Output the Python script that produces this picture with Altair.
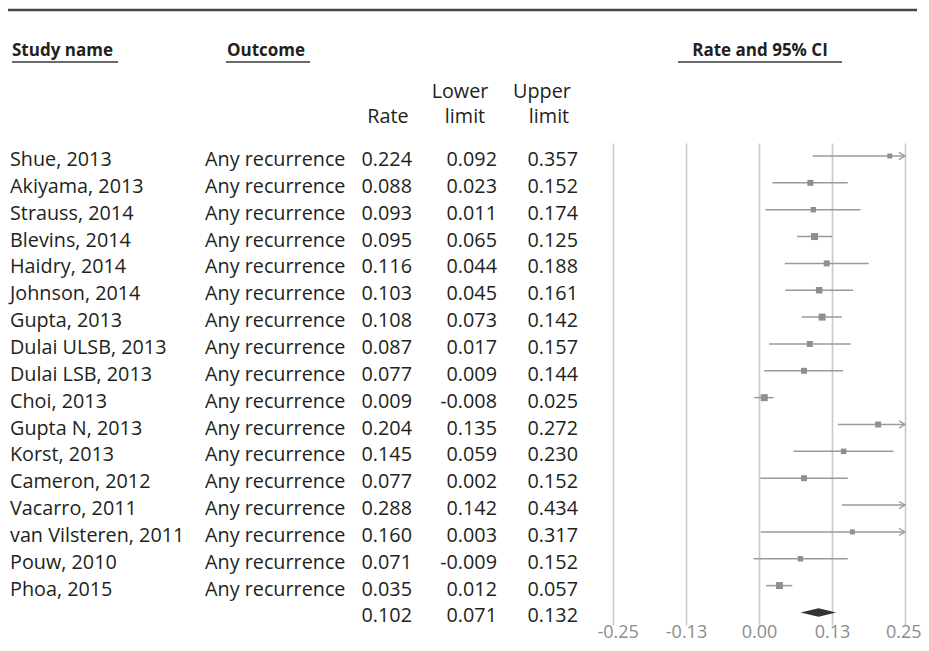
import altair as alt
import pandas as pd

# ---------------- data ----------------
studies = ["Shue, 2013", "Akiyama, 2013", "Strauss, 2014", "Blevins, 2014",
           "Haidry, 2014", "Johnson, 2014", "Gupta, 2013", "Dulai ULSB, 2013",
           "Dulai LSB, 2013", "Choi, 2013", "Gupta N, 2013", "Korst, 2013",
           "Cameron, 2012", "Vacarro, 2011", "van Vilsteren, 2011", "Pouw, 2010",
           "Phoa, 2015"]
outcome = "Any recurrence"
rates = [0.224, 0.088, 0.093, 0.095, 0.116, 0.103, 0.108, 0.087, 0.077, 0.009,
         0.204, 0.145, 0.077, 0.288, 0.160, 0.071, 0.035]
lowers = [0.092, 0.023, 0.011, 0.065, 0.044, 0.045, 0.073, 0.017, 0.009, -0.008,
          0.135, 0.059, 0.002, 0.142, 0.003, -0.009, 0.012]
uppers = [0.357, 0.152, 0.174, 0.125, 0.188, 0.161, 0.142, 0.157, 0.144, 0.025,
          0.272, 0.230, 0.152, 0.434, 0.317, 0.152, 0.057]
# relative study weights (marker area)
weights = [25, 36, 30, 49, 36, 42, 49, 36, 36, 49, 36, 30, 36, 25, 25, 30, 49]
summary_rate, summary_lower, summary_upper = 0.102, 0.071, 0.132
axis_ticks = [-0.25, -0.125, 0.0, 0.125, 0.25]

XMIN, XMAX = -0.25, 0.25

# ---------------- frames ----------------
n = len(studies)
df = pd.DataFrame({
    "row": list(range(n)),
    "study": studies,
    "outcome": [outcome] * n,
    "rate": rates,
    "lower": lowers,
    "upper": uppers,
    "w": weights,
})
df["rate_s"] = df["rate"].map(lambda v: f"{v:.3f}")
df["lower_s"] = df["lower"].map(lambda v: f"{v:.3f}")
df["upper_s"] = df["upper"].map(lambda v: f"{v:.3f}")
df["x1"] = df["lower"].clip(lower=XMIN)
df["x2"] = df["upper"].clip(upper=XMAX)

pts = df[(df["rate"] <= XMAX) & (df["rate"] >= XMIN)]
arrows = df[df["upper"] > XMAX].assign(xa=XMAX)

srow = n
summ = pd.DataFrame({
    "row": [srow],
    "rate_s": [f"{summary_rate:.3f}"],
    "lower_s": [f"{summary_lower:.3f}"],
    "upper_s": [f"{summary_upper:.3f}"],
})
half = 4.2 / 26.85
diamond = pd.DataFrame({
    "x": [summary_lower, summary_rate, summary_upper],
    "y": [srow, srow - half, srow],
    "y2": [srow, srow + half, srow],
})

# ---------------- scales ----------------
W, H = 292, 482
pitch = 26.85
top_off = 13
yscale = alt.Scale(domain=[-top_off / pitch, (H - top_off) / pitch], reverse=True, nice=False, zero=False)
xscale = alt.Scale(domain=[XMIN, XMAX], nice=False, zero=False)

FONT = "Open Sans"
FS = 19.8
TXT = "#231f20"
GREY_MARK = "#8f8f8f"
GREY_LINE = "#9a9a9a"

xaxis = alt.Axis(values=axis_ticks, format=".2f",
                 labelExpr="replace(datum.label, '\u2212', '-')",
                 grid=True, gridColor="#c9c9c9", gridWidth=1.6,
                 domain=False, ticks=False, labelFont=FONT, labelFontSize=18,
                 labelColor="#8c8c8c", labelPadding=-2, labelFlush=True,
                 labelFlushOffset=16,
                 labelOverlap=False, labelBound=False, title=None)

X = lambda f: alt.X(f, scale=xscale, axis=xaxis, title=None)
Y = lambda f: alt.Y(f, scale=yscale, axis=None, title=None)

dummy = pd.DataFrame({"d": [0]})

# grid / axis carrier
base = alt.Chart(df).mark_rule(opacity=0).encode(x=X("rate:Q"), y=Y("row:Q"))

ci = alt.Chart(df).mark_rule(color=GREY_LINE, strokeWidth=1.5).encode(
    x=X("x1:Q"), x2="x2:Q", y=Y("row:Q"))

arrow = alt.Chart(arrows).mark_point(
    shape="M-1,-0.6L0,0L-1,0.6", filled=False, color=GREY_LINE, strokeWidth=1.3,
    size=144, opacity=1).encode(
    x=X("xa:Q"), y=Y("row:Q"))

marks = alt.Chart(pts).mark_point(shape="square", filled=True, color=GREY_MARK, opacity=1).encode(
    x=X("rate:Q"), y=Y("row:Q"),
    size=alt.Size("w:Q", scale=None))

dia = alt.Chart(diamond).mark_area(color="#333333", orient="vertical").encode(
    x=X("x:Q"), y=Y("y:Q"), y2="y2:Q")


def col(data, field, xpx, align):
    return alt.Chart(data).mark_text(
        font=FONT, fontSize=FS, color=TXT, align=align, baseline="alphabetic", dy=10
    ).encode(x=alt.value(xpx), y=Y("row:Q"), text=f"{field}:N")


txt_layers = [
    col(df, "study", -603, "left"),
    col(df, "outcome", -408, "left"),
    col(df, "rate_s", -201, "right"),
    col(df, "lower_s", -116, "right"),
    col(df, "upper_s", -35, "right"),
    col(summ, "rate_s", -201, "right"),
    col(summ, "lower_s", -116, "right"),
    col(summ, "upper_s", -35, "right"),
]


def htext(s, xpx, ypx, align="center", bold=False, size=FS):
    return alt.Chart(dummy).mark_text(
        text=s, font=FONT, fontSize=size, fontWeight="bold" if bold else "normal",
        color=TXT, align=align, baseline="alphabetic"
    ).encode(x=alt.value(xpx), y=alt.value(ypx))


def hline(x1, x2, ypx, w=1.5, color="#3a3a3a"):
    return alt.Chart(dummy).mark_rule(color=color, strokeWidth=w).encode(
        x=alt.value(x1), x2=alt.value(x2), y=alt.value(ypx))


headers = [
    hline(-608, 304, -133, w=2.6, color="#444444"),
    htext("Study name", -601, -87, align="left", bold=True, size=17),
    hline(-601, -495, -81),
    htext("Outcome", -386, -87, align="left", bold=True, size=17),
    hline(-387, -303, -81),
    htext("Rate and 95% CI", 147, -87, align="center", bold=True, size=17),
    hline(65, 229, -81),
    htext("Rate", -225, -20),
    htext("Lower", -153, -45),
    htext("limit", -148, -20),
    htext("Upper", -71, -45),
    htext("limit", -64, -20),
]

chart = alt.layer(base, ci, arrow, marks, dia, *txt_layers, *headers).properties(
    width=W, height=H,
    background="white",
    autosize=alt.AutoSizeParams(type="none"),
    padding={"left": 605, "top": 135, "right": 16, "bottom": 18},
).configure_view(stroke=None)

chart.save("out.html", embed_options={"renderer": "svg", "actions": False})
